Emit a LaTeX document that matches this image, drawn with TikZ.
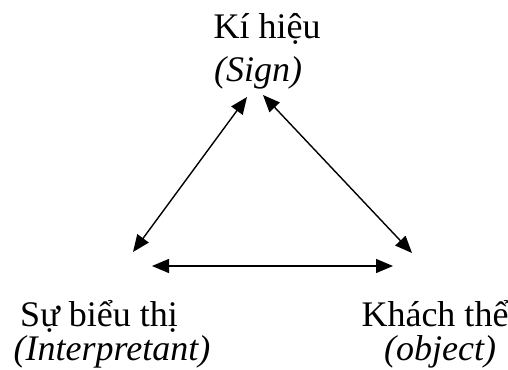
\documentclass[tikz,border=0pt]{standalone}
\usepackage{fontspec}
\setmainfont{Liberation Serif}
\usetikzlibrary{arrows.meta}

\begin{document}
\begin{tikzpicture}[
    x=1pt, y=1pt,
    label/.style={
        anchor=base,
        inner sep=0pt,
        font=\fontsize{36}{40}\selectfont
    },
    link/.style={
        line width=1.4pt,
        {Triangle[length=17pt,width=14pt]}-{Triangle[length=17pt,width=14pt]}
    }
]
\useasboundingbox (0,0) rectangle (508,369);

% Ki hieu
\node[label] (sign) at (267,330) {Kí hiệu};
\node[label] (signen) at (258,287) {\textit{(Sign)}};

% Su bieu thi
\node[label] (interp) at (99,42) {Sự biểu thị};
\node[label] (interpen) at (112,9) {\textit{(Interpretant)}};

% Khach the
\node[label] (obj) at (435,42) {Khách thể};
\node[label] (objen) at (440,9) {\textit{(object)}};

% Diem dau mui ten
\coordinate (sign-l) at (247,272);
\coordinate (sign-r) at (263,274);
\coordinate (interp-t) at (133,117);
\coordinate (interp-r) at (152,103);
\coordinate (obj-t) at (412,116);
\coordinate (obj-l) at (393,103);

% Mui ten
\draw[link] (sign-l) -- (interp-t);
\draw[link] (sign-r) -- (obj-t);
\draw[link] (interp-r) -- (obj-l);

\end{tikzpicture}
\end{document}
